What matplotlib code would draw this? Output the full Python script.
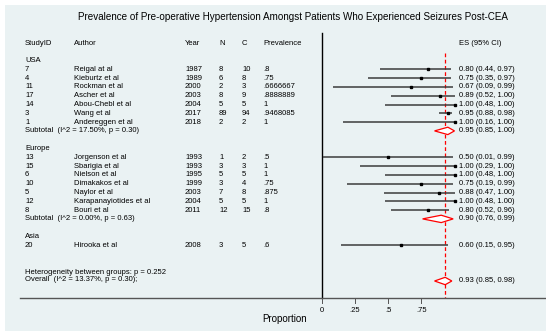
import matplotlib
matplotlib.use("Agg")
import matplotlib.pyplot as plt
from matplotlib.patches import Polygon, Rectangle

plt.rcParams['font.family'] = ['Liberation Sans', 'DejaVu Sans']

title = "Prevalence of Pre-operative Hypertension Amongst Patients Who Experienced Seizures Post-CEA"

# ---- data ----
usa_id = ["7", "4", "11", "17", "14", "3", "1"]
usa_author = ["Reigal at al", "Kieburtz et al", "Rockman et al", "Ascher et al",
              "Abou-Chebl et al", "Wang et al", "Andereggen et al"]
usa_year = [1987, 1989, 2000, 2003, 2004, 2017, 2018]
usa_n = [8, 6, 2, 8, 5, 89, 2]
usa_c = [10, 8, 3, 9, 5, 94, 2]
usa_es = [0.80, 0.75, 0.67, 0.89, 1.00, 0.95, 1.00]
usa_lo = [0.44, 0.35, 0.09, 0.52, 0.48, 0.88, 0.16]
usa_hi = [0.97, 0.97, 0.99, 1.00, 1.00, 0.98, 1.00]
usa_sub = (0.95, 0.85, 1.00)
usa_sub_label = "Subtotal  (I^2 = 17.50%, p = 0.30)"

eu_id = ["13", "15", "6", "10", "5", "12", "8"]
eu_author = ["Jorgenson et al", "Sbarigia et al", "Nielson et al", "Dimakakos et al",
             "Naylor et al", "Karapanayiotides et al", "Bouri et al"]
eu_year = [1993, 1993, 1995, 1999, 2003, 2004, 2011]
eu_n = [1, 3, 5, 3, 7, 5, 12]
eu_c = [2, 3, 5, 4, 8, 5, 15]
eu_es = [0.50, 1.00, 1.00, 0.75, 0.88, 1.00, 0.80]
eu_lo = [0.01, 0.29, 0.48, 0.19, 0.47, 0.48, 0.52]
eu_hi = [0.99, 1.00, 1.00, 0.99, 1.00, 1.00, 0.96]
eu_sub = (0.90, 0.76, 0.99)
eu_sub_label = "Subtotal  (I^2 = 0.00%, p = 0.63)"

asia_id = ["20"]
asia_author = ["Hirooka et al"]
asia_year = [2008]
asia_n = [3]
asia_c = [5]
asia_es = [0.60]
asia_lo = [0.15]
asia_hi = [0.95]

het_label = "Heterogeneity between groups: p = 0.252"
overall_label = "Overall  (I^2 = 13.37%, p = 0.30);"
overall = (0.93, 0.85, 0.98)

xticks = [0, 0.25, 0.5, 0.75]
xtick_labels = ["0", ".25", ".5", ".75"]
headers = ["StudyID", "Author", "Year", "N", "C", "Prevalence", "ES (95% CI)"]

# ---- layout ----
W, H = 550, 336
X0, XS = 321.5, 133.0      # pixel of x=0, pixels per unit
Y0, YS = 60.5, 8.8         # pixel of row 0, pixels per row
PL, PT, PR, PB = 5, 5, 546, 331
BG = "#EAF2F3"

def px(p):
    return (p - X0) / XS

def ry(p):
    return (p - Y0) / YS

fig = plt.figure(figsize=(W / 100, H / 100), dpi=100, facecolor="white")
ax = fig.add_axes([PL / W, (H - PB) / H, (PR - PL) / W, (PB - PT) / H])
ax.set_xlim(px(PL), px(PR))
ax.set_ylim(ry(PB), ry(PT))
ax.axis("off")
ax.add_patch(Rectangle((0, 0), 1, 1, transform=ax.transAxes, facecolor=BG,
                       edgecolor="none", zorder=0))

FS = 5.5
col_x = [px(25), px(73.5), px(185), px(219), px(242), px(263), px(459)]

ax.text(px(293.5), ry(17), title, ha="center", va="center", fontsize=7.1, color="black")
for h, x in zip(headers, col_x):
    ax.text(x, ry(43.3), h, ha="left", va="center", fontsize=FS)

def prev_str(n, c):
    s = "%.7g" % (n / c)
    return s[1:] if s.startswith("0") else s

def study_rows(start, ids, authors, years, ns, cs, es, lo, hi):
    for i in range(len(ids)):
        y = start + i
        vals = [ids[i], authors[i], str(years[i]), str(ns[i]), str(cs[i]), prev_str(ns[i], cs[i])]
        for v, x in zip(vals, col_x[:6]):
            ax.text(x, y, v, ha="left", va="center", fontsize=FS)
        ax.plot([lo[i], hi[i]], [y, y], color="#3c3c3c", lw=1.1, solid_capstyle="butt", zorder=3)
        ax.plot([es[i]], [y], marker="s", color="black", markersize=1.8, zorder=4)
        ax.text(col_x[6], y, "%.2f (%.2f, %.2f)" % (es[i], lo[i], hi[i]), ha="left", va="center", fontsize=FS)

def diamond(y, est):
    e, l, h = est
    d = 0.42
    poly = Polygon([(l, y), (e, y - d), (h, y), (e, y + d)], closed=True,
                   facecolor="white", edgecolor="red", lw=0.9, zorder=5)
    ax.add_patch(poly)
    ax.text(col_x[6], y, "%.2f (%.2f, %.2f)" % (e, l, h), ha="left", va="center", fontsize=FS)

# USA
ax.text(col_x[0], 0, "USA", ha="left", va="center", fontsize=FS)
study_rows(1, usa_id, usa_author, usa_year, usa_n, usa_c, usa_es, usa_lo, usa_hi)
ax.text(col_x[0], 8, usa_sub_label, ha="left", va="center", fontsize=FS)
diamond(8, usa_sub)

# Europe
ax.text(col_x[0], 10, "Europe", ha="left", va="center", fontsize=FS)
study_rows(11, eu_id, eu_author, eu_year, eu_n, eu_c, eu_es, eu_lo, eu_hi)
ax.text(col_x[0], 18, eu_sub_label, ha="left", va="center", fontsize=FS)
diamond(18, eu_sub)

# Asia
ax.text(col_x[0], 20, "Asia", ha="left", va="center", fontsize=FS)
study_rows(21, asia_id, asia_author, asia_year, asia_n, asia_c, asia_es, asia_lo, asia_hi)

# Overall
ax.text(col_x[0], ry(272.7), het_label, ha="left", va="center", fontsize=FS)
ax.text(col_x[0], ry(279.3), overall_label, ha="left", va="center", fontsize=FS)
diamond(ry(281), overall)

# reference lines
ax.plot([0, 0], [ry(33), ry(298.3)], color="black", lw=1.0, zorder=2)
ax.plot([overall[0], overall[0]], [ry(53), ry(298.3)], color="red", lw=0.9,
        dashes=(3, 2), zorder=2)

# x axis
ax.plot([px(20), px(PR)], [ry(298.3), ry(298.3)], color="#555555", lw=1.0, zorder=2)
for t, lab in zip(xticks, xtick_labels):
    ax.plot([t, t], [ry(298.3), ry(302.5)], color="#555555", lw=0.7)
    ax.text(t, ry(310), lab, ha="center", va="center", fontsize=FS)
ax.text(px(285), ry(319.5), "Proportion", ha="center", va="center", fontsize=7.0)

fig.savefig("out.png", dpi=100, facecolor="white")
